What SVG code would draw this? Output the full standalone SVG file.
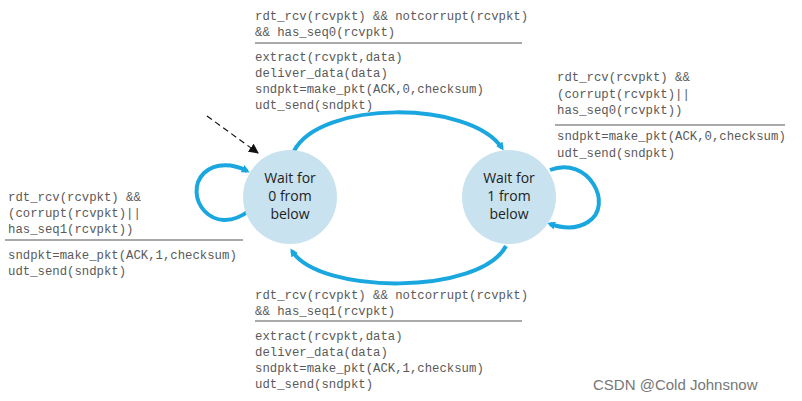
<svg xmlns="http://www.w3.org/2000/svg" width="802" height="401" viewBox="0 0 802 401">
<style>
.t{font-family:"Liberation Mono",monospace;font-size:12.3px;fill:#5a5a5a}
.r{stroke:#555;stroke-width:1.2}
.c{fill:#c8e2ef}
.s{font-family:"Open Sans","Liberation Sans",sans-serif;font-size:14px;fill:#222;text-anchor:middle}
.a{fill:none;stroke:#1aa7e0;stroke-width:4;marker-end:url(#ab)}
</style>
<defs>
<marker id="ab" markerWidth="8" markerHeight="8" refX="5" refY="4" orient="auto" markerUnits="userSpaceOnUse" viewBox="0 0 8 8"><path d="M0,0 L8,4 L0,8 Z" fill="#1aa7e0"/></marker>
<marker id="ak" markerWidth="10" markerHeight="10" refX="9" refY="5" orient="auto" markerUnits="userSpaceOnUse" viewBox="0 0 10 10"><path d="M0,0 L10,5 L0,10 Z" fill="#111"/></marker>
</defs>
<rect width="802" height="401" fill="#fff"/>
<g id="connectors">
<path class="a" d="M294,151 C320,100 470,100 502,148"/>
<path class="a" d="M506,246 C480,295 320,295 292,251"/>
<path class="a" d="M250,210 C212,240 182,195 204,173 C216,162 234,164 247,171"/>
<path class="a" d="M550,170 C588,155 615,205 588,222 C576,230 562,228 550,224"/>
<path d="M207,116 L258,153" stroke="#111" stroke-width="1.2" stroke-dasharray="6,4" fill="none" marker-end="url(#ak)"/>
</g>
<g id="s0"><circle class="c" cx="290" cy="197" r="47"/>
<text class="s" x="290" y="183">Wait for</text><text class="s" x="290" y="201">0 from</text><text class="s" x="290" y="219">below</text></g>
<g id="s1"><circle class="c" cx="509" cy="197" r="47"/>
<text class="s" x="509" y="183">Wait for</text><text class="s" x="509" y="201">1 from</text><text class="s" x="509" y="219">below</text></g>
<g id="top">
<text class="t" x="255" y="20">rdt_rcv(rcvpkt) &amp;&amp; notcorrupt(rcvpkt)</text>
<text class="t" x="255" y="36">&amp;&amp; has_seq0(rcvpkt)</text>
<line class="r" x1="255" y1="43" x2="522" y2="43"/>
<text class="t" x="255" y="61">extract(rcvpkt,data)</text>
<text class="t" x="255" y="77">deliver_data(data)</text>
<text class="t" x="255" y="93">sndpkt=make_pkt(ACK,0,checksum)</text>
<text class="t" x="255" y="109">udt_send(sndpkt)</text>
</g>
<g id="right">
<text class="t" x="557" y="81">rdt_rcv(rcvpkt) &amp;&amp;</text>
<text class="t" x="557" y="98">(corrupt(rcvpkt)||</text>
<text class="t" x="557" y="114">has_seq0(rcvpkt))</text>
<line class="r" x1="555" y1="125" x2="785" y2="125"/>
<text class="t" x="557" y="140">sndpkt=make_pkt(ACK,0,checksum)</text>
<text class="t" x="557" y="157">udt_send(sndpkt)</text>
</g>
<g id="left">
<text class="t" x="8" y="201">rdt_rcv(rcvpkt) &amp;&amp;</text>
<text class="t" x="8" y="217">(corrupt(rcvpkt)||</text>
<text class="t" x="8" y="233">has_seq1(rcvpkt))</text>
<line class="r" x1="5" y1="240" x2="243" y2="240"/>
<text class="t" x="8" y="259">sndpkt=make_pkt(ACK,1,checksum)</text>
<text class="t" x="8" y="275">udt_send(sndpkt)</text>
</g>
<g id="bottom">
<text class="t" x="255" y="299">rdt_rcv(rcvpkt) &amp;&amp; notcorrupt(rcvpkt)</text>
<text class="t" x="255" y="315">&amp;&amp; has_seq1(rcvpkt)</text>
<line class="r" x1="255" y1="321" x2="522" y2="321"/>
<text class="t" x="255" y="340">extract(rcvpkt,data)</text>
<text class="t" x="255" y="356">deliver_data(data)</text>
<text class="t" x="255" y="372">sndpkt=make_pkt(ACK,1,checksum)</text>
<text class="t" x="255" y="388">udt_send(sndpkt)</text>
</g>
<text x="593" y="390" font-family="Liberation Sans,sans-serif" font-size="15" fill="#777">CSDN @Cold Johnsnow</text>
</svg>
